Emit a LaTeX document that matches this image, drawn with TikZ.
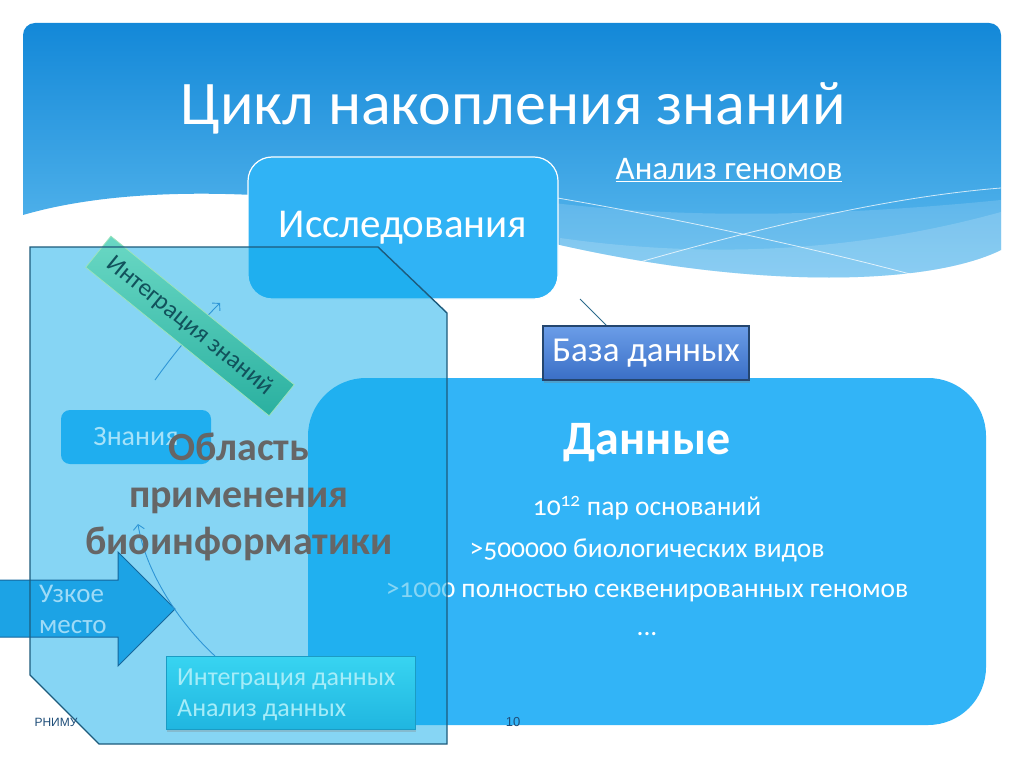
\documentclass[tikz,border=0pt]{standalone}
\usepackage{fontspec}
\setmainfont{Carlito}
\newfontfamily\arialf{Liberation Sans}
\usetikzlibrary{arrows.meta,shadows}
\definecolor{bgtop}{HTML}{1388D8}
\definecolor{bgbot}{HTML}{62BEF0}
\definecolor{resfill}{HTML}{30B3F5}
\definecolor{datafill}{HTML}{32B4F7}
\definecolor{dbtop}{HTML}{6B9DE8}
\definecolor{dbbot}{HTML}{3A6FC6}
\definecolor{dbdraw}{HTML}{24466F}
\definecolor{shapefill}{HTML}{0FADEB}
\definecolor{shapedraw}{HTML}{1D5B7C}
\definecolor{zfill}{HTML}{1FAEEF}
\definecolor{ztext}{HTML}{A6E2F9}
\definecolor{arrfill}{HTML}{1CA3E5}
\definecolor{arrdraw}{HTML}{15679C}
\definecolor{arrtext}{HTML}{9EDBF7}
\definecolor{idtop}{HTML}{38D4F1}
\definecolor{idbot}{HTML}{20B6E0}
\definecolor{iddraw}{HTML}{1B9CC4}
\definecolor{idtext}{HTML}{A5ECF8}
\definecolor{rottop}{HTML}{6AD8C4}
\definecolor{rotbot}{HTML}{2AB0A0}
\definecolor{rotdraw}{HTML}{9CE3BC}
\definecolor{rottext}{HTML}{11525C}
\definecolor{thin}{HTML}{2F96D6}
\definecolor{conn}{HTML}{2C6B8C}
\definecolor{oblast}{HTML}{666666}
\definecolor{pagenum}{HTML}{1F4E79}
\tikzset{
  fs/.style={font=\fontsize{#1}{#1}\selectfont},
  whitetext/.style={text=white, inner sep=0pt},
  thinarrow/.style={draw=thin, line width=0.9pt, -{Straight Barb[length=5pt,width=11pt]}},
}
\begin{document}
\begin{tikzpicture}[x=1pt,y=-1pt]
\useasboundingbox (0,0) rectangle (1024,767);
\fill[white] (0,0) rectangle (1024,767);
% background wave
\begin{scope}
\clip[rounded corners=12pt] (23,23) rectangle (1001,330);
\shade[top color=bgtop, bottom color=bgbot] (23,23) -- (1001,23) -- (1001,250)
  .. controls (930,285) and (760,290) .. (560,245)
  .. controls (380,195) and (160,175) .. (23,215) -- cycle;
\fill[white, opacity=0.14] (470,190) .. controls (650,225) and (850,215) .. (1001,200) -- (1001,250)
  .. controls (930,285) and (760,290) .. (560,245) .. controls (520,235) and (490,225) .. (470,220) -- cycle;
\fill[white, opacity=0.16] (560,238) .. controls (750,265) and (900,240) .. (1001,212) -- (1001,250)
  .. controls (930,285) and (760,290) .. (560,245) -- cycle;
\draw[white, opacity=0.75, line width=0.8pt] (540,195) .. controls (700,222) and (840,255) .. (925,278);
\draw[white, opacity=0.75, line width=0.8pt] (640,262) .. controls (780,222) and (900,196) .. (1001,188);
\end{scope}
% title
\node[whitetext, fs=62] (title) at (513,108) {Цикл накопления знаний};
\node[whitetext, fs=33] (genome) at (729,170) {\underline{Анализ геномов}};
% research box
\node[draw=white, line width=1.2pt, fill=resfill, rounded corners=24pt, minimum width=310pt, minimum height=142pt,
      text=white, fs=41] (res) at (403,228) {Исследования};
% data box
\node[fill=datafill, rounded corners=58pt, minimum width=678pt, minimum height=347pt] (data) at (647,551.5) {};
\node[whitetext, font=\fontsize{48}{48}\selectfont\bfseries] (dtitle) at (647,443) {Данные};
\node[whitetext, fs=27.5] (d1) at (647,508) {\addfontfeatures{Numbers=OldStyle}10\textsuperscript{12} пар оснований};
\node[whitetext, fs=27.5] (d2) at (647,550) {\addfontfeatures{Numbers=OldStyle}>500000 биологических видов};
\node[whitetext, fs=27.5] (d3) at (647,592) {\addfontfeatures{Numbers=OldStyle}>1000 полностью секвенированных геномов};
\node[whitetext, fs=27.5] (d4) at (647,634) {...};
% connector and database
\coordinate (c1) at (580,299);
\coordinate (c2) at (607,326);
\draw[conn, line width=1pt] (c1) -- (c2);
\node[draw=dbdraw, line width=1.2pt, top color=dbtop, bottom color=dbbot, minimum width=206pt, minimum height=54pt,
      inner sep=0pt, text=white, fs=35, drop shadow={opacity=0.35, shadow xshift=1pt, shadow yshift=-3pt}] (db) at (646,353) {База данных};
% overlay area
\path[fill=shapefill, fill opacity=0.5] (30,247) -- (378,247) -- (447,313) -- (447,744) -- (99,744) -- (30,675) -- cycle;
% knowledge box
\node[fill=zfill, rounded corners=9pt, minimum width=150pt, minimum height=54pt, text=ztext, fs=28] (know) at (136,437) {Знания};
% bottleneck arrow
\path[fill=arrfill] (-2,580) -- (118,580) -- (118,552) -- (175,609) -- (118,666) -- (118,637) -- (-2,637) -- cycle;
\draw[arrdraw, line width=1pt, line join=miter] (-2,580) -- (118,580) -- (118,552) -- (175,609) -- (118,666) -- (118,637) -- (-2,637);
\node[anchor=west, align=left, text=arrtext, inner sep=0pt, font=\fontsize{27}{31}\selectfont] (bottle) at (39,609) {Узкое\\место};
% thin arrow 1
\coordinate (a1s) at (155,380);
\coordinate (a1e) at (220,303);
\draw[thinarrow] (a1s) .. controls (175,352) and (195,328) .. (a1e);
% rotated box
\node[draw=rotdraw, line width=0.8pt, top color=rottop, bottom color=rotbot, minimum width=236pt, minimum height=40pt,
      rotate=-39, text=rottext, fs=25, inner sep=0pt] (kint) at (190,326) {Интеграция знаний};
% data integration box
\node[draw=iddraw, line width=1pt, top color=idtop, bottom color=idbot, minimum width=249pt, minimum height=73pt,
      drop shadow={opacity=0.3, shadow xshift=1pt, shadow yshift=-3pt}] (dint) at (290.5,692.5) {};
\node[anchor=west, align=left, text=idtext, inner sep=0pt, font=\fontsize{26}{31}\selectfont] (dinttext) at (177,695) {Интеграция данных\\Анализ данных};
% thin arrow 2
\coordinate (a2s) at (215,656);
\coordinate (a2e) at (138,524);
\draw[thinarrow] (a2s) .. controls (178,622) and (145,570) .. (a2e);
% overlay border
\draw[shapedraw, line width=1.4pt] (30,247) -- (378,247) -- (447,313) -- (447,744) -- (99,744) -- (30,675) -- cycle;
% area text
\node[text=oblast, align=center, inner sep=0pt, font=\fontsize{40}{47}\selectfont\bfseries] (area) at (239,497) {Область\\применения\\биоинформатики};
% footer
\node[text=pagenum, inner sep=0pt, font=\arialf\fontsize{12}{14}\selectfont] (rnimu) at (56,722) {РНИМУ};
\node[text=pagenum, inner sep=0pt, font=\arialf\fontsize{13}{15}\selectfont] (pnum) at (513,722) {10};
\end{tikzpicture}
\end{document}
